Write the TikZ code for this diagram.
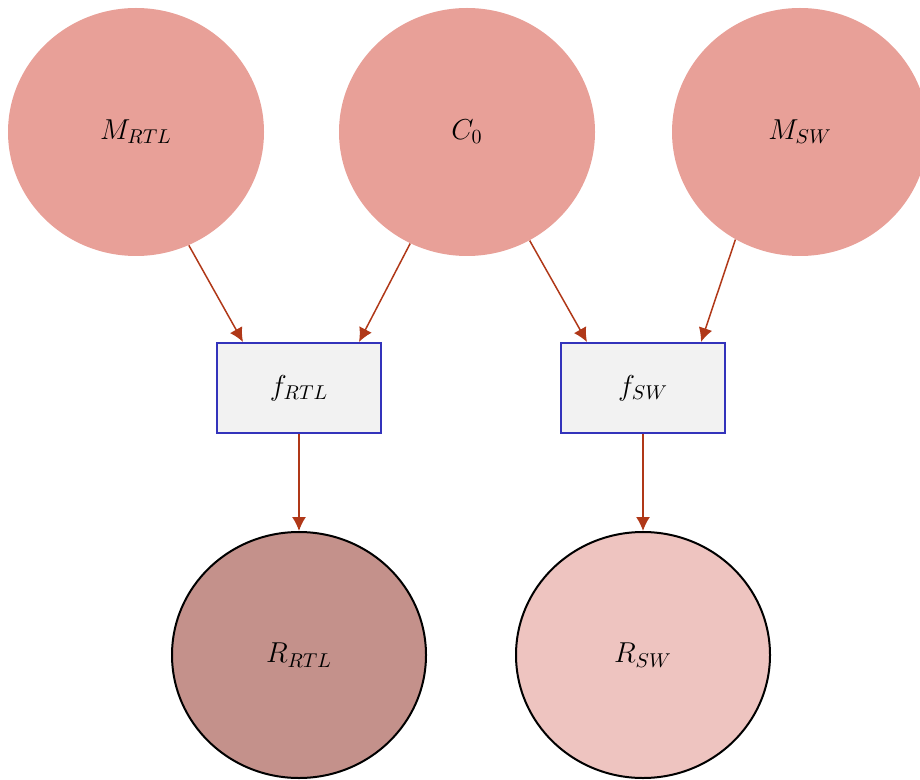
\documentclass[tikz,border=0pt]{standalone}
\usetikzlibrary{arrows.meta,shapes.geometric,positioning}
\definecolor{topfill}{RGB}{232,160,152}
\definecolor{rtlfill}{RGB}{196,145,139}
\definecolor{swfill}{RGB}{238,196,192}
\definecolor{boxline}{RGB}{51,51,187}
\definecolor{boxfill}{RGB}{242,242,242}
\definecolor{arr}{RGB}{176,56,24}
\tikzstyle{ne}=[ellipse,fill=topfill,minimum width=128pt,minimum height=124pt,font=\Large]
\tikzstyle{nf}=[draw=boxline,line width=1pt,fill=boxfill,minimum width=82pt,minimum height=45pt,font=\Large]
\tikzstyle{nr}=[ellipse,draw=black,line width=1pt,minimum width=127pt,minimum height=123pt,font=\Large]
\tikzstyle{ar}=[->,draw=arr,line width=0.75pt]

\begin{document}
\begin{tikzpicture}[
      x=0.5pt,y=-0.5pt,
      >={Latex[length=7pt,width=7pt]}
    ]
     \useasboundingbox (0,0) rectangle (920,780);

     \node [ne] (n1) at (136,132) {$M_{RTL}$};
     \node [ne] (n2) at (467,132) {$C_0$};
     \node [ne] (n3) at (800,132) {$M_{SW}$};
     \node [nf] (n4) at (299,388) {$f_{RTL}$};
     \node [nf] (n5) [node distance=172pt,right of=n4] {$f_{SW}$};
     \node [nr,fill=rtlfill] (n6) [node distance=133.5pt,below of=n4] {$R_{RTL}$};
     \node [nr,fill=swfill] (n7) [node distance=133.5pt,below of=n5] {$R_{SW}$};

      \draw[ar] (n1.-65) -- ([xshift=13.5pt]n4.north west);
      \draw[ar] (n2.-117) -- ([xshift=-11.5pt]n4.north east);
      \draw[ar] (n2.-60) -- ([xshift=13.5pt]n5.north west);
      \draw[ar] (n3.-121) -- ([xshift=-12.5pt]n5.north east);
      \draw[ar] (n4) -- (n6);
      \draw[ar] (n5) -- (n7);
    \end{tikzpicture}
\end{document}
